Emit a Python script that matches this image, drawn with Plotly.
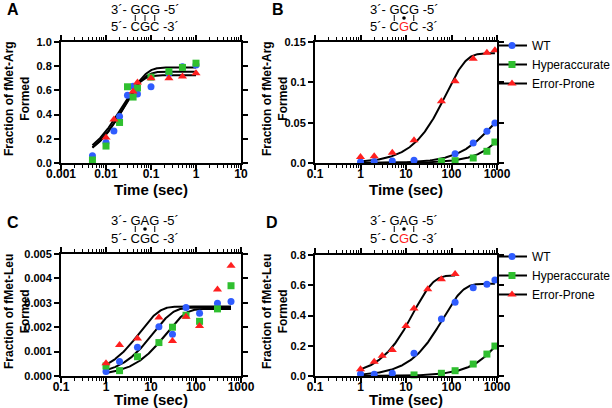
import numpy as np
import plotly.graph_objects as go

FONT = "Liberation Sans, Arial, sans-serif"
BLUE = "#2f5cff"
GREEN = "#2fbf2f"
RED = "#ff1f1f"
W, H = 612, 408

# ---------------- data ----------------
# Panel A  (GCG / CGC, cognate, fMet-Arg)
a_time = [0.005, 0.01, 0.015, 0.02, 0.03, 0.04, 0.05, 0.1, 0.25, 0.5, 1]
a_wt = [0.06, 0.17, 0.265, 0.385, 0.56, 0.635, 0.57, 0.63, 0.742, 0.795, 0.81]
a_hyper = [0.025, 0.14, None, 0.335, 0.63, 0.545, 0.62, 0.71, 0.756, 0.79, 0.825]
a_err = [None, 0.21, 0.36, None, None, 0.59, 0.665, 0.70, 0.70, 0.715, 0.742]

# Panel B  (GCG / CGC with G mismatch, fMet-Arg)
b_time = [1, 2, 5, 15, 60, 120, 300, 600, 900]
b_wt = [0.0012, 0.002, 0.0025, 0.0033, None, 0.0116, 0.0248, 0.0393, 0.0496]
b_hyper = [None, None, None, None, 0.002, 0.0029, 0.0062, 0.0145, 0.026]
b_err = [0.0074, 0.0083, 0.0128, 0.0281, 0.0764, 0.1012, 0.1293, 0.1368, 0.1397]

# Panel C  (GAG / CGC, fMet-Leu)
c_time = [1, 2, 5, 15, 30, 60, 120, 300, 600]
c_wt = [0.00018, 0.00059, 0.00118, 0.00202, 0.00171, 0.00281, 0.00257, 0.00298, 0.00305]
c_hyper = [0.00041, 0.00022, 0.00079, 0.00137, 0.0020, 0.00249, 0.00224, 0.00275, 0.0037]
c_err = [0.00052, 0.00127, 0.00154, 0.0024, 0.00143, 0.00243, 0.00205, 0.00355, 0.00452]

# Panel D  (GAG / CGC with G, fMet-Leu)
d_time = [1, 2, 3, 5, 10, 15, 30, 60, 120, 300, 600, 900]
d_wt = [0.013, 0.011, None, 0.018, None, 0.15, None, 0.377, 0.487, 0.584, 0.606, 0.635]
d_hyper = [None, None, None, None, None, 0.007, None, 0.018, 0.035, 0.079, 0.145, 0.198]
d_err = [0.044, 0.095, 0.134, 0.172, 0.33, 0.447, 0.573, 0.64, 0.674, None, None, None]

# single-exponential fit parameters: (amplitude, rate, t_start, t_end)
a_fits = {"wt": (0.755, 38, 0.005, 1), "hyper": (0.79, 35, 0.005, 1), "err": (0.725, 45, 0.005, 1)}
b_fits = {"wt": (0.07, 1.37e-3, 1, 900), "hyper": (0.5, 5.8e-5, 1, 900), "err": (0.136, 0.013, 1, 900)}
c_fits = {"wt": (0.0028, 0.088, 1, 600), "hyper": (0.00275, 0.046, 1, 600), "err": (0.00285, 0.175, 1, 600)}
d_fits = {"wt": (0.61, 0.015, 1, 900), "hyper": (0.6, 4.4e-4, 1, 900), "err": (0.665, 0.068, 1, 120)}

series_names = {"wt": "WT", "hyper": "Hyperaccurate", "err": "Error-Prone"}
series_style = {
    "wt": dict(color=BLUE, symbol="circle", size=7),
    "hyper": dict(color=GREEN, symbol="square", size=7),
    "err": dict(color=RED, symbol="triangle-up", size=8),
}


def px(x):
    return x / W


def py(y):
    return 1 - y / H


def fit_curve(amp, rate, t0, t1):
    t = np.logspace(np.log10(t0), np.log10(t1), 200)
    return t, amp * (1 - np.exp(-rate * t))


fig = go.Figure()

panels = [
    ("x", "y", a_time, {"wt": a_wt, "hyper": a_hyper, "err": a_err}, a_fits),
    ("x2", "y2", b_time, {"wt": b_wt, "hyper": b_hyper, "err": b_err}, b_fits),
    ("x3", "y3", c_time, {"wt": c_wt, "hyper": c_hyper, "err": c_err}, c_fits),
    ("x4", "y4", d_time, {"wt": d_wt, "hyper": d_hyper, "err": d_err}, d_fits),
]

for xa, ya, tt, vals, fits in panels:
    for key in ["wt", "hyper", "err"]:
        amp, rate, t0, t1 = fits[key]
        cx, cy = fit_curve(amp, rate, t0, t1)
        fig.add_trace(go.Scatter(x=cx, y=cy, mode="lines", line=dict(color="black", width=2),
                                 showlegend=False, xaxis=xa, yaxis=ya, hoverinfo="skip"))
    for key in ["wt", "hyper", "err"]:
        fig.add_trace(go.Scatter(x=tt, y=vals[key], mode="markers", marker=series_style[key],
                                 name=series_names[key], showlegend=False, cliponaxis=False,
                                 xaxis=xa, yaxis=ya))

# legend entries (line + symbol) for panels B and D
for leg, xa, ya in [("legend", "x2", "y2"), ("legend2", "x4", "y4")]:
    for key in ["wt", "hyper", "err"]:
        fig.add_trace(go.Scatter(x=[None], y=[None], mode="lines+markers",
                                 line=dict(color="black", width=2), marker=series_style[key],
                                 name=series_names[key], legend=leg, xaxis=xa, yaxis=ya))

xtickfont = dict(family=FONT, size=12, color="black", weight="bold")
ytickfont = dict(family=FONT, size=11, color="black", weight="bold")


def xaxis(x0, x1, y_anchor, rng, vals, texts):
    return dict(type="log", domain=[px(x0), px(x1)], anchor=y_anchor, range=rng, automargin=False,
                tickvals=vals, ticktext=texts, ticks="outside", ticklen=5, tickwidth=1.5,
                tickcolor="black", showline=True, linewidth=2, linecolor="black",
                mirror="allticks", showgrid=False, zeroline=False, tickfont=xtickfont,
                ticklabelstandoff=-6,
                minor=dict(ticks="outside", ticklen=3, tickwidth=1, tickcolor="black",
                           dtick="D1", showgrid=False))


def yaxis(y_top, y_bot, x_anchor, rng, vals, texts):
    return dict(domain=[py(y_bot), py(y_top)], anchor=x_anchor, range=rng, automargin=False,
                tickvals=vals, ticktext=texts, ticks="outside", ticklen=5, tickwidth=1.5,
                tickcolor="black", showline=True, linewidth=2, linecolor="black",
                mirror="allticks", showgrid=False, zeroline=False, tickfont=ytickfont)


xt_a = [0.001, 0.01, 0.1, 1, 10]
xl_a = ["0.001", "0.01", "0.1", "1", "10"]
xt_b = [0.1, 1, 10, 100, 1000]
xl_b = ["0.1", "1", "10", "100", "1000"]

ya_vals = [0, 0.2, 0.4, 0.6, 0.8, 1.0]
ya_text = ["0.0", "0.2", "0.4", "0.6", "0.8", "1.0"]
yb_vals = [0, 0.05, 0.1, 0.15]
yb_text = ["0.0", "0.05", "0.1", "0.15"]
yc_vals = [0, 0.001, 0.002, 0.003, 0.004, 0.005]
yc_text = ["0.000", "0.001", "0.002", "0.003", "0.004", "0.005"]
yd_vals = [0, 0.2, 0.4, 0.6, 0.8]
yd_text = ["0.0", "0.2", "0.4", "0.6", "0.8"]

fig.update_layout(
    width=W, height=H, margin=dict(l=0, r=0, t=0, b=0, autoexpand=False),
    paper_bgcolor="white", plot_bgcolor="white",
    font=dict(family=FONT, color="black"),
    xaxis=xaxis(61, 241, "y", [-3, 1], xt_a, xl_a),
    yaxis=yaxis(42, 163, "x", [0, 1], ya_vals, ya_text),
    xaxis2=xaxis(315, 497, "y2", [-1, 3], xt_b, xl_b),
    yaxis2=yaxis(42, 163, "x2", [0, 0.15], yb_vals, yb_text),
    xaxis3=xaxis(61, 241, "y3", [-1, 3], xt_b, xl_b),
    yaxis3=yaxis(254, 376, "x3", [0, 0.005], yc_vals, yc_text),
    xaxis4=xaxis(315, 497, "y4", [-1, 3], xt_b, xl_b),
    yaxis4=yaxis(255, 376, "x4", [0, 0.8], yd_vals, yd_text),
    legend=dict(x=px(492), y=py(31), xanchor="left", yanchor="top", bgcolor="rgba(0,0,0,0)",
                font=dict(family=FONT, size=12, color="black")),
    legend2=dict(x=px(492), y=py(242), xanchor="left", yanchor="top", bgcolor="rgba(0,0,0,0)",
                 font=dict(family=FONT, size=12, color="black")),
    showlegend=True,
)

annotations = []
shapes = []

# panel letters
for letter, x, y in [("A", 13, 9), ("B", 278, 9), ("C", 13, 223), ("D", 272, 223)]:
    annotations.append(dict(text=letter, x=px(x), y=py(y), xref="paper", yref="paper",
                            showarrow=False, xanchor="center", yanchor="middle",
                            font=dict(family=FONT, size=16, color="black", weight="bold")))

# y axis titles
for txt, x, y in [("Fraction of fMet-Arg<br>Formed", 17, 99), ("Fraction of fMet-Arg<br>Formed", 275, 99),
                  ("Fraction of fMet-Leu<br>Formed", 17, 312), ("Fraction of fMet-Leu<br>Formed", 275, 312)]:
    annotations.append(dict(text=txt, x=px(x), y=py(y), xref="paper", yref="paper", textangle=-90,
                            showarrow=False, xanchor="center", yanchor="middle",
                            font=dict(family=FONT, size=12, color="black", weight="bold")))

# x axis titles
for x, y in [(151, 189), (406, 189), (151, 399), (406, 399)]:
    annotations.append(dict(text="Time (sec)", x=px(x), y=py(y), xref="paper", yref="paper",
                            showarrow=False, xanchor="center", yanchor="middle",
                            font=dict(family=FONT, size=15, color="black", weight="bold")))

# codon-anticodon diagrams
FS = 13
RED_G = "<span style='color:#ff1f1f'>G</span>"
diagrams = [
    (145, 9, "3´- GCG -5´", "5´- CGC -3´", ["bar", "bar", "bar"]),
    (404, 9, "3´- GCG -5´", "5´- C" + RED_G + "C -3´", ["bar", "dot", "bar"]),
    (145, 220, "3´- GAG -5´", "5´- CGC -3´", ["bar", "dot", "bar"]),
    (404, 220, "3´- GAG -5´", "5´- C" + RED_G + "C -3´", ["bar", "dot", "bar"]),
]
for xc, ytop, line1, line2, marks in diagrams:
    annotations.append(dict(text=line1, x=px(xc), y=py(ytop), xref="paper", yref="paper",
                            showarrow=False, xanchor="center", yanchor="middle",
                            font=dict(family=FONT, size=FS, color="black")))
    annotations.append(dict(text=line2, x=px(xc), y=py(ytop + 18), xref="paper", yref="paper",
                            showarrow=False, xanchor="center", yanchor="middle",
                            font=dict(family=FONT, size=FS, color="black")))
    for off, m in zip([-0.75 * FS, 0, 0.75 * FS], marks):
        mx = xc + off
        my = ytop + 9
        if m == "bar":
            shapes.append(dict(type="line", xref="paper", yref="paper", x0=px(mx), x1=px(mx),
                               y0=py(my - 3), y1=py(my + 3), line=dict(color="black", width=1)))
        else:
            shapes.append(dict(type="circle", xref="paper", yref="paper", x0=px(mx - 1.8), x1=px(mx + 1.8),
                               y0=py(my - 1.8), y1=py(my + 1.8), fillcolor="black",
                               line=dict(color="black", width=0)))

fig.update_layout(annotations=annotations, shapes=shapes)

fig.write_html("out.html", config={"displayModeBar": False},
               post_script="document.body.style.margin='0px';")
